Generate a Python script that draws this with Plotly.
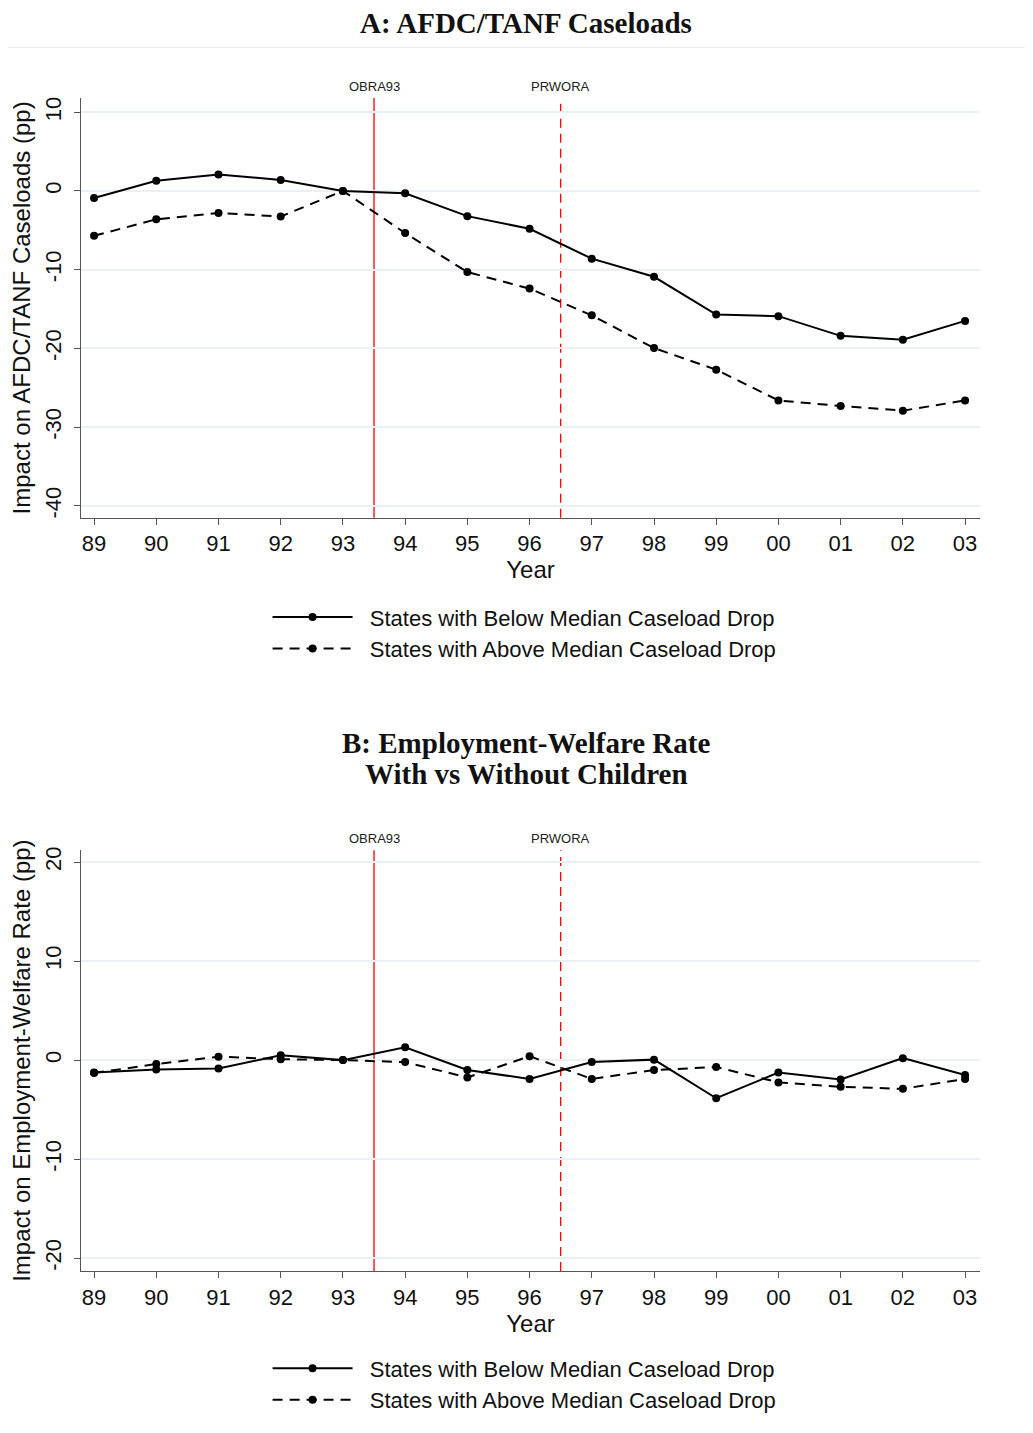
import plotly.graph_objects as go

# data
years = list(range(1989, 2004))
year_labels = ["89", "90", "91", "92", "93", "94", "95", "96", "97", "98", "99", "00", "01", "02", "03"]

caseload_below = [-0.9, 1.3, 2.1, 1.4, 0.0, -0.3, -3.2, -4.8, -8.6, -10.9, -15.7, -15.9, -18.4, -18.9, -16.5]
caseload_above = [-5.7, -3.6, -2.8, -3.25, 0.0, -5.35, -10.3, -12.4, -15.8, -19.95, -22.7, -26.6, -27.3, -27.9, -26.6]
emp_below = [-1.25, -0.95, -0.85, 0.5, 0.0, 1.3, -1.0, -1.9, -0.2, 0.05, -3.85, -1.25, -1.95, 0.2, -1.5]
emp_above = [-1.3, -0.4, 0.35, 0.1, 0.0, -0.2, -1.75, 0.4, -1.9, -1.0, -0.7, -2.25, -2.7, -2.9, -1.9]

ticks_a = [-40, -30, -20, -10, 0, 10]
ticks_b = [-20, -10, 0, 10, 20]

policy_names = ["OBRA93", "PRWORA"]
policy_years = [1993.5, 1996.5]
policy_dash = ["solid", "dash"]

name_below = "States with Below Median Caseload Drop"
name_above = "States with Above Median Caseload Drop"

# page geometry (the html body adds an 8px margin)
OFF = 8
W, H = 1025, 1425
L, R, T, B = 71, 53, 90, 153
PH = H - T - B
PW = W - L - R


def py(p):
    # page pixel row -> paper y
    return 1 - (p - OFF - T) / PH


def px(p):
    return (p - OFF - L) / PW


fig = go.Figure()

series = [
    (caseload_below, name_below, "solid", "x", "y", "legend"),
    (caseload_above, name_above, "dash", "x", "y", "legend"),
    (emp_below, name_below, "solid", "x2", "y2", "legend2"),
    (emp_above, name_above, "dash", "x2", "y2", "legend2"),
]
for vals, name, dash, xa, ya, leg in series:
    fig.add_trace(go.Scatter(
        x=years, y=vals, name="\u00a0\u00a0" + name, mode="lines+markers",
        line=dict(color="black", width=2, dash="10px,7px" if dash == "dash" else "solid"),
        marker=dict(color="black", size=8),
        xaxis=xa, yaxis=ya, legend=leg,
    ))

shapes = []
annotations = []
for xa, ya in [("x", "y"), ("x2", "y2")]:
    # zero line
    shapes.append(dict(type="line", xref=xa + " domain", yref=ya, x0=0, x1=1, y0=0, y1=0,
                       line=dict(color="#ff0000", width=1.3), layer="below"))
    for nm, yr, ds in zip(policy_names, policy_years, policy_dash):
        shapes.append(dict(type="line", xref=xa, yref=ya + " domain", x0=yr, x1=yr, y0=0, y1=1,
                           line=dict(color="#ff0000", width=1.3, dash="9px,6px" if ds == "dash" else "solid"),
                           layer="below"))
        annotations.append(dict(text=nm, xref=xa, yref=ya + " domain", x=yr, y=1, yanchor="bottom",
                                yshift=2, showarrow=False, font=dict(size=13, color="#222")))

# separator under panel A title
shapes.append(dict(type="line", xref="paper", yref="paper", x0=px(5), x1=px(1028), y0=py(47), y1=py(47),
                   line=dict(color="#ececec", width=1)))

title_font = dict(family="Liberation Serif, DejaVu Serif, serif", size=29, color="#111")
for txt, row in [("A: AFDC/TANF Caseloads", 22), ("B: Employment-Welfare Rate", 748),
                 ("With vs Without Children", 779)]:
    annotations.append(dict(text="<b>" + txt + "</b>", xref="paper", yref="paper", x=px(525), y=py(row),
                            xanchor="center", yanchor="middle", showarrow=False, font=title_font))

tick_font = dict(family="Liberation Sans, Arial, sans-serif", size=22, color="#111")
title_font_ax = dict(family="Liberation Sans, Arial, sans-serif", size=24, color="#111")
x_common = dict(range=[1988.79, 2003.24], tickmode="array", tickvals=years, ticktext=year_labels,
                showline=True, linecolor="#555", linewidth=1.3, ticks="outside", ticklen=6,
                tickcolor="#555", showgrid=False, zeroline=False, tickfont=tick_font,
                title=dict(text="Year", font=title_font_ax, standoff=0))
y_common = dict(showline=True, linecolor="#555", linewidth=1.3, ticks="outside", ticklen=6,
                tickcolor="#555", showgrid=True, gridcolor="#eaf0f3", gridwidth=1.5, zeroline=False,
                tickfont=tick_font, tickangle=-90, ticklabelstandoff=4, tickmode="array")

legend_common = dict(x=px(266), xanchor="left", yanchor="top", font=dict(size=22),
                     bgcolor="rgba(0,0,0,0)", tracegroupgap=0, itemwidth=80)

fig.update_layout(
    width=W, height=H,
    margin=dict(l=L, r=R, t=T, b=B),
    paper_bgcolor="white", plot_bgcolor="white",
    font=dict(family="Liberation Sans, Arial, sans-serif", color="#111"),
    xaxis=dict(domain=[0, 1], anchor="y", **x_common),
    yaxis=dict(domain=[py(521), 1], anchor="x", range=[-41.5, 11.8], tickvals=ticks_a,
               ticktext=[str(v) for v in ticks_a],
               title=dict(text="Impact on AFDC/TANF Caseloads (pp)", font=title_font_ax, standoff=4),
               **y_common),
    xaxis2=dict(domain=[0, 1], anchor="y2", **x_common),
    yaxis2=dict(domain=[0, py(856)], anchor="x2", range=[-21.3, 21.2], tickvals=ticks_b,
                ticktext=[str(v) for v in ticks_b],
                title=dict(text="Impact on Employment-Welfare Rate (pp)", font=title_font_ax, standoff=4),
                **y_common),
    shapes=shapes,
    annotations=annotations,
    legend=dict(y=py(600), **legend_common),
    legend2=dict(y=py(1357), **legend_common),
    showlegend=True,
)

fig.write_html("out.html")
